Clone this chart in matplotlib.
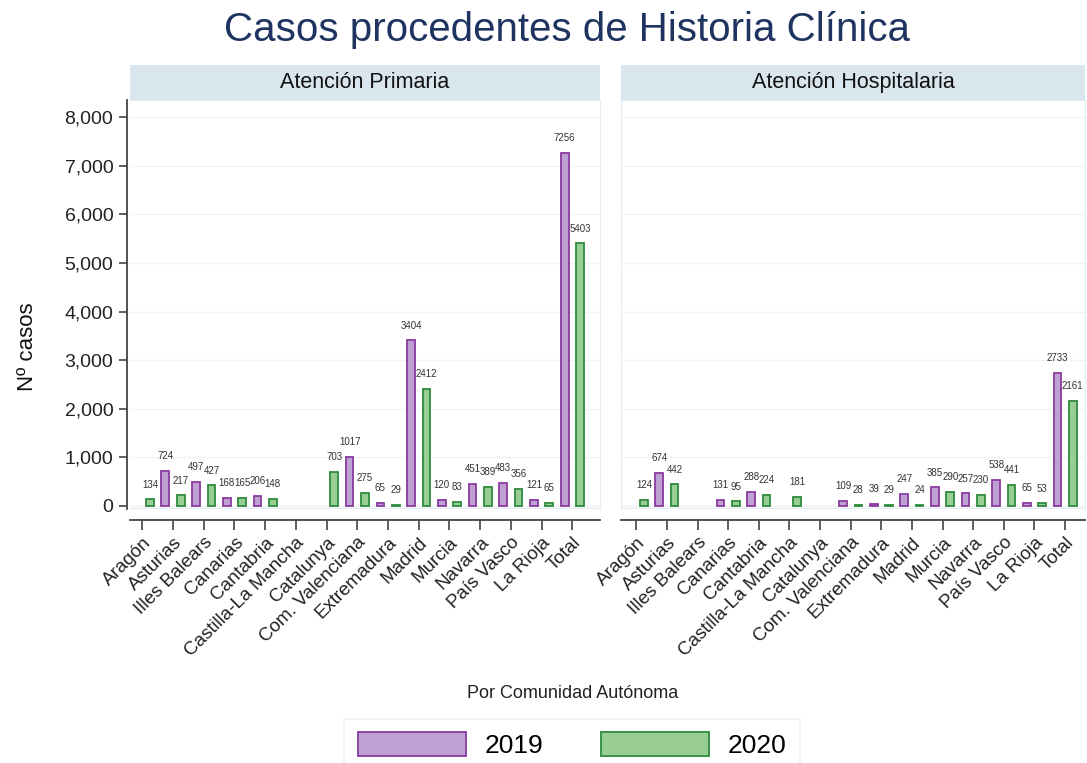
import matplotlib
matplotlib.use("Agg")
import matplotlib.pyplot as plt
from matplotlib.patches import Patch
import numpy as np

plt.rcParams['font.family'] = ['Liberation Sans', 'DejaVu Sans']

# data (nan = no bar)
nan = np.nan
regiones = ['Aragón', 'Asturias', 'Illes Balears', 'Canarias', 'Cantabria',
            'Castilla-La Mancha', 'Catalunya', 'Com. Valenciana', 'Extremadura',
            'Madrid', 'Murcia', 'Navarra', 'País Vasco', 'La Rioja', 'Total']
ap_2019 = [nan, 724, 497, 168, 206, nan, nan, 1017, 65, 3404, 120, 451, 483, 121, 7256]
ap_2020 = [134, 217, 427, 165, 148, nan, 703, 275, 29, 2412, 83, 389, 356, 65, 5403]
ah_2019 = [nan, 674, nan, 131, 288, nan, nan, 109, 39, 247, 385, 257, 538, 65, 2733]
ah_2020 = [124, 442, nan, 95, 224, 181, nan, 28, 29, 24, 290, 230, 441, 53, 2161]
paneles = ['Atención Primaria', 'Atención Hospitalaria']
anios = ['2019', '2020']

fill = {'2019': '#bfa0d2', '2020': '#98cd94'}
edge = {'2019': '#8a3a9e', '2020': '#2e8b3c'}
faint = '#e6edf0'

W, H = 1087, 763
fig = plt.figure(figsize=(W / 100, H / 100), dpi=100)

def fx(px):
    return px / W

def fy(py):
    return 1 - py / H

boxes = [(130, 600, (-0.3, 30.3)), (621, 1085, (-0.5, 29.8))]
datos = [(ap_2019, ap_2020), (ah_2019, ah_2020)]
ymin, ymax = -62, 8350

for k, (x0, x1, xl) in enumerate(boxes):
    ax = fig.add_axes([fx(x0), fy(509), fx(x1) - fx(x0), fy(100) - fy(509)])
    # spine positions first: moving a spine resets the ticks
    ax.spines['bottom'].set_position(('outward', 8))
    if k == 0:
        ax.spines['left'].set_position(('outward', 2))

    strip = fig.add_axes([fx(x0), fy(100), fx(x1) - fx(x0), fy(65) - fy(100)])
    strip.set_facecolor('#d9e6ee')
    strip.set_xticks([])
    strip.set_yticks([])
    for s in strip.spines.values():
        s.set_visible(False)
    strip.text(0.5, 0.5, paneles[k], ha='center', va='center', fontsize=15.5,
               color='#111111', transform=strip.transAxes)

    for j, (anio, vals) in enumerate(zip(anios, datos[k])):
        vals = np.array(vals, dtype=float)
        pos = np.arange(len(regiones)) * 2 + j
        ok = ~np.isnan(vals)
        ax.bar(pos[ok], vals[ok], width=0.5, color=fill[anio],
               edgecolor=edge[anio], linewidth=1.3, zorder=3)
        for p, v in zip(pos[ok], vals[ok]):
            ax.annotate(f'{int(v)}', (p, v), xytext=(0, 7), textcoords='offset points',
                        ha='center', va='bottom', fontsize=7, color='#333333')

    ax.set_xlim(*xl)
    ax.set_ylim(ymin, ymax)
    ax.set_yticks(range(0, 8001, 1000))
    ax.grid(axis='y', color='#eef3f5', linewidth=1, zorder=0)
    ax.axhline(ymin, color=faint, linewidth=1.5, zorder=1)
    ax.set_xticks(np.arange(len(regiones)) * 2 + 0.5)
    ax.set_xticklabels(regiones, rotation=45, ha='right', rotation_mode='anchor',
                       fontsize=13.5, color='#222222')
    ax.tick_params(axis='x', length=7, width=1.2, color='#444444', pad=3)
    ax.spines['bottom'].set_color('#444444')
    ax.spines['bottom'].set_linewidth(1.3)
    ax.spines['top'].set_color(faint)
    ax.spines['right'].set_color(faint)
    if k == 0:
        ax.spines['left'].set_color('#444444')
        ax.spines['left'].set_linewidth(1.3)
        ax.set_yticklabels([f'{t:,}' for t in range(0, 8001, 1000)],
                           fontsize=14, color='#222222')
        ax.tick_params(axis='y', length=6, width=1.2, color='#444444', pad=4)
        ax.set_ylabel('Nº casos', fontsize=16, color='#111111')
        ax.yaxis.set_label_coords(-0.195, 0.396)
    else:
        ax.spines['left'].set_color(faint)
        ax.tick_params(axis='y', left=False, labelleft=False)

fig.text(fx(567), fy(30), 'Casos procedentes de Historia Clínica', ha='center',
         va='center', fontsize=29, color='#1f3360')
fig.text(fx(573), fy(693), 'Por Comunidad Autónoma', ha='center', va='center',
         fontsize=13, color='#222222')

handles = [Patch(facecolor=fill[a], edgecolor=edge[a], linewidth=1.3) for a in anios]
leg = fig.legend(handles, anios, loc='center', bbox_to_anchor=(fx(572), fy(745)),
                 ncol=2, fontsize=19, frameon=True, handlelength=4.1, handleheight=1.05,
                 columnspacing=2.2, handletextpad=0.7, borderpad=0.5, fancybox=False)
leg.get_frame().set_edgecolor(faint)
leg.get_frame().set_linewidth(1.2)

fig.savefig('out.png', dpi=100, facecolor='white')
